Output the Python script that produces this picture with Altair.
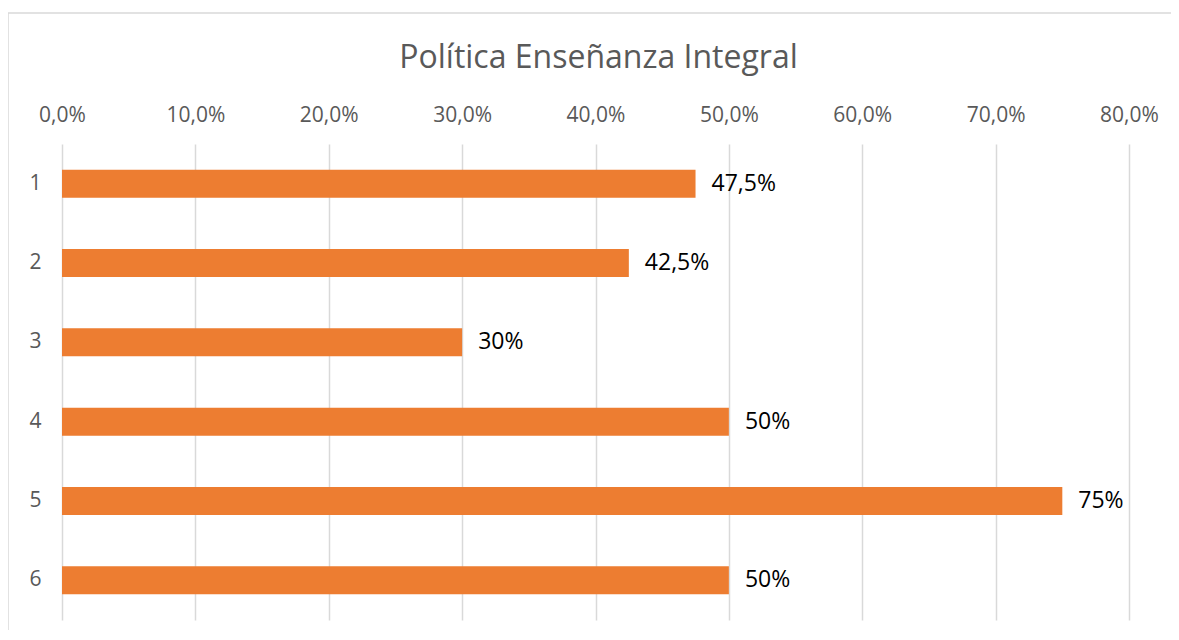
import altair as alt
import pandas as pd

categories = ["1", "2", "3", "4", "5", "6"]
values = [0.475, 0.425, 0.30, 0.50, 0.75, 0.50]
value_labels = ["47,5%", "42,5%", "30%", "50%", "75%", "50%"]
tick_values = [0.0, 0.1, 0.2, 0.3, 0.4, 0.5, 0.6, 0.7, 0.8]
title_text = "Política Enseñanza Integral"

df = pd.DataFrame({"cat": categories, "val": values, "lab": value_labels})

FONT = "Open Sans"
GRAY = "#595959"

W, H = 1067, 476
PAD_L, PAD_T, PAD_R, PAD_B = 54, 136, 42, 10

x_enc = alt.X(
    "val:Q",
    scale=alt.Scale(domain=[0, 0.8], nice=False, zero=True),
    axis=alt.Axis(
        orient="top",
        values=tick_values,
        labelExpr="replace(format(datum.value, '.1%'), '.', ',')",
        title=None,
        domain=False,
        ticks=False,
        grid=True,
        gridColor="#d9d9d9",
        gridWidth=1.5,
        labelColor=GRAY,
        labelFont=FONT,
        labelFontSize=21,
        labelPadding=19,
        labelFlush=False,
    ),
)
y_enc = alt.Y(
    "cat:N",
    sort=categories,
    scale=alt.Scale(paddingInner=0.647, paddingOuter=0.3235),
    axis=alt.Axis(
        title=None,
        domain=False,
        ticks=False,
        labelColor=GRAY,
        labelFont=FONT,
        labelFontSize=21,
        labelPadding=21,
    ),
)

border = alt.Chart(pd.DataFrame({"k": [0]})).mark_rect(
    fill=None, stroke="#d9d9d9", strokeWidth=1.5, clip=False
).encode(
    x=alt.value(-PAD_L),
    x2=alt.value(W + PAD_R + 10),
    y=alt.value(-(PAD_T - 5)),
    y2=alt.value(H + PAD_B + 10),
)

title = alt.Chart(pd.DataFrame({"t": [title_text]})).mark_text(
    font=FONT, fontSize=32, color=GRAY, align="center", baseline="middle", clip=False
).encode(
    x=alt.value(W / 2 + 3),
    y=alt.value(-(PAD_T + 8 - 58)),
    text="t:N",
)

bars = alt.Chart(df).mark_bar(color="#ED7D31", size=28).encode(x=x_enc, y=y_enc)

text = alt.Chart(df).mark_text(
    align="left", baseline="middle", dx=16, font=FONT, fontSize=23, color="#000000"
).encode(
    x=alt.X("val:Q", scale=alt.Scale(domain=[0, 0.8], nice=False)),
    y=alt.Y("cat:N", sort=categories),
    text="lab:N",
)

chart = alt.layer(border, title, bars, text).properties(
    width=W,
    height=H,
    autosize=alt.AutoSizeParams(type="none"),
    padding={"left": PAD_L, "top": PAD_T, "right": PAD_R, "bottom": PAD_B},
).configure_view(stroke=None)

chart.save("out.html", embed_options={"renderer": "svg", "actions": False})
